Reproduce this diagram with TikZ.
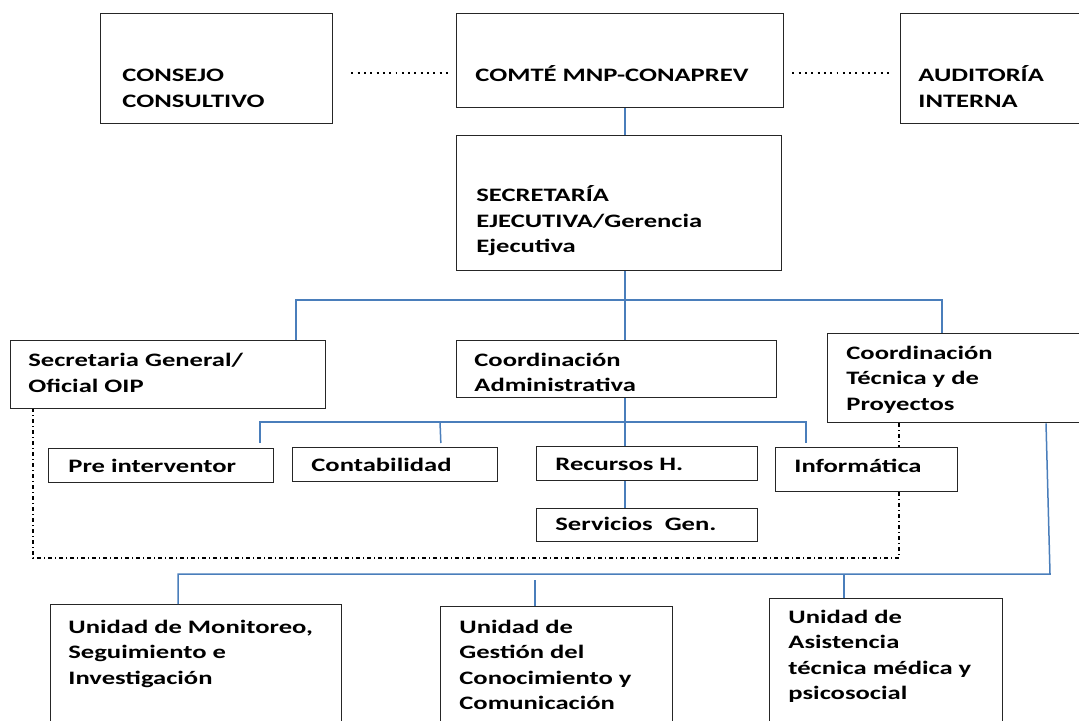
\documentclass[tikz,border=0pt]{standalone}
\usepackage{fontspec}
\newfontfamily\orgfont{Carlito}[FakeStretch=1.4]
\usetikzlibrary{positioning}
\definecolor{orgblue}{RGB}{74,126,187}
\tikzset{
  orgbox/.style={draw=black!85, line width=0.7pt, fill=white, inner sep=0pt, anchor=north west},
  boxtext/.style={anchor=base west, inner sep=0pt, align=left, font=\orgfont\bfseries\fontsize{9.5}{12.75}\selectfont},
  orgline/.style={draw=orgblue, line width=0.75pt},
  orgdots/.style={draw=black, line width=0.95pt, dash pattern=on 0.95pt off 2.2pt},
  orgdashdot/.style={draw=black, line width=0.6pt, dash pattern=on 2pt off 1.5pt on 0.5pt off 1.5pt},
}
% name, x1, y1, x2, y2 (pixels, y down)
\newcommand\orgunit[5]{%
  \node[orgbox, minimum width={(#4-#2)*0.5pt}, minimum height={(#5-#3)*0.5pt}] (#1) at (#2,#3) {};}
\begin{document}
\begin{tikzpicture}[x=0.5pt, y=-0.5pt]
\useasboundingbox (0,0) rectangle (1079,721);
% boxes
\orgunit{consejo}{100}{13}{332}{123}
\orgunit{comite}{456}{13}{783}{107}
\orgunit{auditoria}{900}{13}{1090}{123}
\orgunit{secretaria}{456}{135}{781}{270}
\orgunit{secgen}{10}{340}{325}{408}
\orgunit{coordadm}{456}{340}{776}{397}
\orgunit{coordtec}{827}{333}{1090}{422}
\orgunit{preint}{48}{448}{273}{482}
\orgunit{contab}{292}{447}{497}{481}
\orgunit{rrhh}{536}{446}{757}{480}
\orgunit{informatica}{775}{447}{957}{491}
\orgunit{servicios}{536}{508}{757}{541}
\orgunit{monitoreo}{50}{604}{341}{730}
\orgunit{gestion}{440}{606}{672}{730}
\orgunit{asistencia}{769}{598}{1002}{730}
% texts (shift to baseline of last line)
\node[boxtext] (consejo-t) at ([shift={(22,94.5)}]consejo.north west) {CONSEJO\\CONSULTIVO};
\node[boxtext] (comite-t) at ([shift={(19,69)}]comite.north west) {COMTÉ MNP-CONAPREV};
\node[boxtext] (auditoria-t) at ([shift={(18,94.5)}]auditoria.north west) {AUDITORÍA\\INTERNA};
\node[boxtext] (secretaria-t) at ([shift={(20,118)}]secretaria.north west) {SECRETARÍA\\EJECUTIVA/Gerencia\\Ejecutiva};
\node[boxtext] (secgen-t) at ([shift={(18,52)}]secgen.north west) {Secretaria General/\\Oficial OIP};
\node[boxtext] (coordadm-t) at ([shift={(18,51.5)}]coordadm.north west) {Coordinación\\Administrativa};
\node[boxtext] (coordtec-t) at ([shift={(19,77)}]coordtec.north west) {Coordinación\\Técnica y de\\Proyectos};
\node[boxtext] (preint-t) at ([shift={(20,24)}]preint.north west) {Pre interventor};
\node[boxtext] (contab-t) at ([shift={(19,24)}]contab.north west) {Contabilidad};
\node[boxtext] (rrhh-t) at ([shift={(19,24)}]rrhh.north west) {Recursos H.};
\node[boxtext] (informatica-t) at ([shift={(19,25)}]informatica.north west) {Informática};
\node[boxtext] (servicios-t) at ([shift={(19,22)}]servicios.north west) {Servicios\ \ Gen.};
\node[boxtext] (monitoreo-t) at ([shift={(18,80)}]monitoreo.north west) {Unidad de Monitoreo,\\Seguimiento e\\Investigación};
\node[boxtext] (gestion-t) at ([shift={(19,103.5)}]gestion.north west) {Unidad de\\Gestión del\\Conocimiento y\\Comunicación};
\node[boxtext] (asistencia-t) at ([shift={(19,101.5)}]asistencia.north west) {Unidad de\\Asistencia\\técnica médica y\\psicosocial};
% branch points
\coordinate (spine) at (625,0);
\coordinate (sgdrop) at (296,300);
\coordinate (ctdrop) at (942,300);
\coordinate (pidrop) at (260,422);
\coordinate (codrop) at (440,422);
\coordinate (indrop) at (806,422);
\coordinate (ddleft) at (33,558);
\coordinate (ddright) at (899,558);
\coordinate (ctout) at (1046,0);
\coordinate (bus3) at (1050,574);
\coordinate (modrop) at (178,574);
\coordinate (gedrop) at (535,580);
\coordinate (asdrop) at (844,574);
% links
\draw[orgdots, shorten <=9pt, shorten >=2pt] ([yshift=-2pt]consejo.east) -- ([yshift=-2pt]consejo.east -| comite.west);
\draw[orgdots, shorten <=4pt, shorten >=5pt] ([yshift=-6pt]comite.east) -- ([yshift=-6pt]comite.east -| auditoria.west);
\draw[orgline] (spine |- comite.south) -- (spine |- secretaria.north);
\draw[orgline] (spine |- secretaria.south) -- (spine |- coordadm.north);
\draw[orgline] (sgdrop |- secgen.north) -- (sgdrop) -- (ctdrop) -- (ctdrop |- coordtec.north);
\draw[orgline] (spine |- coordadm.south) -- (spine |- rrhh.north);
\draw[orgline, shorten <=2.5pt, shorten >=2pt] (pidrop |- preint.north) -- (pidrop) -- (indrop) -- (indrop |- informatica.north);
\draw[orgline, shorten >=2pt] (codrop) -- ([xshift=0.5pt]codrop |- contab.north);
\draw[orgline] (spine |- rrhh.south) -- (spine |- servicios.north);
\draw[orgdashdot] (ddright |- coordtec.south) -- (ddright |- informatica.north);
\draw[orgdashdot] (ddright |- informatica.south) -- (ddright) -- (ddleft) -- (ddleft |- secgen.south);
\draw[orgline] (ctout |- coordtec.south) -- (bus3) -- (modrop) -- (modrop |- monitoreo.north);
\draw[orgline] (gedrop) -- (gedrop |- gestion.north);
\draw[orgline] (asdrop) -- (asdrop |- asistencia.north);
\end{tikzpicture}
\end{document}
